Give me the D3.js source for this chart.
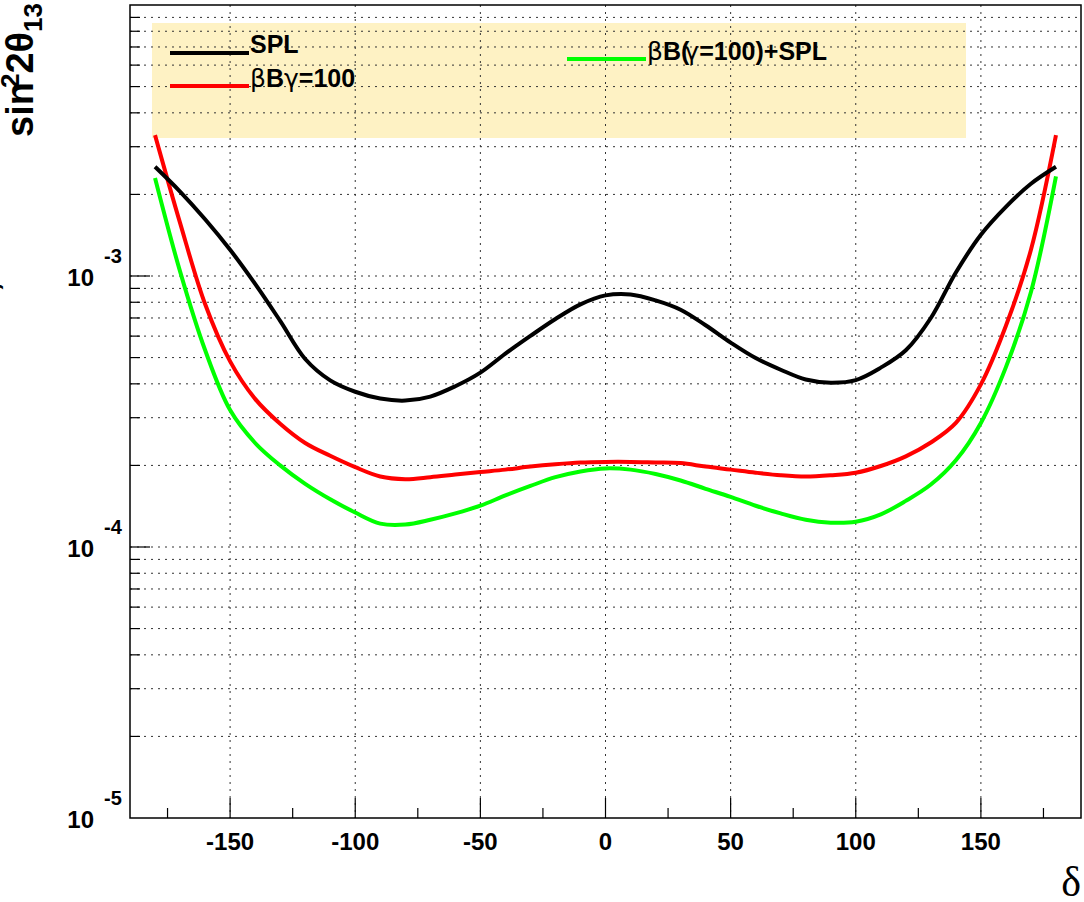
<!DOCTYPE html>
<html>
<head>
<meta charset="utf-8">
<script src="https://cdn.jsdelivr.net/npm/d3@7"></script>
<style>
  body { margin: 0; background: #fff; }
  #my_dataviz { width: 1084px; height: 902px; }
  text { font-family: "Liberation Sans", Arial, sans-serif; }
</style>
</head>
<body>
<div id="my_dataviz"></div>
<script>
// delta values (degrees) where the curves were read
var delta = [-180,-170,-160,-150,-140,-130,-120,-110,-100,-90,-80,-70,-60,-50,-40,-30,-20,-10,
             0,10,20,30,40,50,60,70,80,90,100,110,120,130,140,150,160,170,180];

// SPL
var splVals = [2.53e-3,2.05e-3,1.62e-3,1.25e-3,9.35e-4,6.83e-4,4.94e-4,4.12e-4,3.74e-4,3.53e-4,3.47e-4,3.59e-4,3.92e-4,4.40e-4,5.17e-4,6.01e-4,6.94e-4,7.86e-4,
               8.48e-4,8.55e-4,8.13e-4,7.51e-4,6.58e-4,5.68e-4,4.98e-4,4.51e-4,4.15e-4,4.04e-4,4.13e-4,4.59e-4,5.32e-4,7.00e-4,1.03e-3,1.42e-3,1.80e-3,2.19e-3,2.53e-3];

// beta beam gamma=100
var bbVals = [3.31e-3,1.57e-3,7.88e-4,4.84e-4,3.52e-4,2.85e-4,2.42e-4,2.17e-4,1.97e-4,1.82e-4,1.78e-4,1.81e-4,1.85e-4,1.89e-4,1.93e-4,1.98e-4,2.02e-4,2.05e-4,
              2.06e-4,2.06e-4,2.05e-4,2.04e-4,1.98e-4,1.93e-4,1.88e-4,1.84e-4,1.82e-4,1.84e-4,1.88e-4,1.99e-4,2.16e-4,2.43e-4,2.87e-4,3.98e-4,6.55e-4,1.25e-3,3.31e-3];

// beta beam + SPL
var combVals = [2.30e-3,1.04e-3,5.33e-4,3.20e-4,2.42e-4,2.00e-4,1.71e-4,1.50e-4,1.34e-4,1.22e-4,1.21e-4,1.26e-4,1.33e-4,1.42e-4,1.55e-4,1.68e-4,1.81e-4,1.90e-4,
                1.95e-4,1.93e-4,1.86e-4,1.76e-4,1.64e-4,1.53e-4,1.42e-4,1.33e-4,1.26e-4,1.23e-4,1.24e-4,1.32e-4,1.48e-4,1.70e-4,2.09e-4,2.87e-4,4.61e-4,8.73e-4,2.33e-3];

var xTicks = [-150,-100,-50,0,50,100,150];
var xMinor = [-175,-125,-75,-25,25,75,125,175];
var yMajor = [1e-5,1e-4,1e-3];
var yExp = ["-5","-4","-3"];

var seriesNames = ["SPL", "βBγ=100", "βB(γ=100)+SPL"];
var seriesColors = ["#000000", "#ff0000", "#00ff00"];

// frame (window.top is taken, so keep these in an object)
var frame = {left: 130, right: 1081, top: 5, bottom: 818};

var svg = d3.select("#my_dataviz")
  .append("svg")
  .attr("width", 1084)
  .attr("height", 902)
  .style("display", "block");

var x = d3.scaleLinear().domain([-190, 190]).range([frame.left, frame.right]);
var y = d3.scaleLog().domain([1e-5, 1e-2]).range([frame.bottom, frame.top]);

// legend box goes under the grid
svg.append("rect")
  .attr("x", 152).attr("y", 23)
  .attr("width", 814).attr("height", 115)
  .attr("fill", "#fef2c4");

// minor y values 2..9 per decade
var yGrid = [];
[1e-5, 1e-4, 1e-3].forEach(function(d) {
  for (var k = 1; k <= 9; k++) yGrid.push(d * k);
});
yGrid = yGrid.filter(function(d) { return d > 1e-5; });

svg.append("g").selectAll("line")
  .data(yGrid)
  .enter().append("line")
  .attr("x1", frame.left).attr("x2", frame.right)
  .attr("y1", function(d) { return y(d); })
  .attr("y2", function(d) { return y(d); })
  .attr("stroke", "#333")
  .attr("stroke-width", 1)
  .attr("stroke-dasharray", "2,5");

svg.append("g").selectAll("line")
  .data(xTicks)
  .enter().append("line")
  .attr("x1", function(d) { return x(d); })
  .attr("x2", function(d) { return x(d); })
  .attr("y1", frame.top).attr("y2", frame.bottom)
  .attr("stroke", "#333")
  .attr("stroke-width", 1)
  .attr("stroke-dasharray", "2,5");

// ticks
svg.append("g").selectAll("line")
  .data(xTicks)
  .enter().append("line")
  .attr("x1", function(d) { return x(d); })
  .attr("x2", function(d) { return x(d); })
  .attr("y1", frame.bottom).attr("y2", frame.bottom - 20)
  .attr("stroke", "#000").attr("stroke-width", 1.2);

svg.append("g").selectAll("line")
  .data(xMinor)
  .enter().append("line")
  .attr("x1", function(d) { return x(d); })
  .attr("x2", function(d) { return x(d); })
  .attr("y1", frame.bottom).attr("y2", frame.bottom - 10)
  .attr("stroke", "#000").attr("stroke-width", 1.2);

svg.append("g").selectAll("line")
  .data(yGrid)
  .enter().append("line")
  .attr("x1", frame.left)
  .attr("x2", function(d) { return yMajor.indexOf(d) >= 0 ? frame.left + 20 : frame.left + 10; })
  .attr("y1", function(d) { return y(d); })
  .attr("y2", function(d) { return y(d); })
  .attr("stroke", "#000").attr("stroke-width", 1.2);

// tick labels
svg.append("g").selectAll("text")
  .data(xTicks)
  .enter().append("text")
  .attr("x", function(d) { return x(d); })
  .attr("y", 850)
  .attr("text-anchor", "middle")
  .style("font-size", "24px")
  .style("font-weight", "bold")
  .text(function(d) { return d; });

var yLab = svg.append("g").selectAll("g")
  .data(yMajor)
  .enter().append("g");
yLab.append("text")
  .attr("x", 94)
  .attr("y", function(d) { return y(d) + 10; })
  .attr("text-anchor", "end")
  .style("font-size", "24px")
  .style("font-weight", "bold")
  .text("10");
yLab.append("text")
  .attr("x", 104)
  .attr("y", function(d) { return y(d) - 13; })
  .style("font-size", "20px")
  .style("font-weight", "bold")
  .text(function(d, i) { return yExp[i]; });

// axis titles
svg.append("text")
  .attr("x", 1081).attr("y", 896)
  .attr("text-anchor", "end")
  .style("font-family", "'Liberation Serif', 'Times New Roman', serif")
  .style("font-size", "42px")
  .text("δ");

var yt = svg.append("text")
  .attr("transform", "translate(33,3) rotate(-90)")
  .attr("text-anchor", "end")
  .style("font-size", "38px")
  .style("font-weight", "bold");
yt.append("tspan").text("sin");
yt.append("tspan").attr("dy", -14).attr("dx", -6).style("font-size", "26px").text("2");
yt.append("tspan").attr("dy", 14).text("2θ");
yt.append("tspan").attr("dy", 9).style("font-size", "26px").text("13");

// first title line, almost entirely outside the page
svg.append("text")
  .attr("transform", "translate(-2,152) rotate(-90)")
  .attr("text-anchor", "end")
  .style("font-size", "34px")
  .style("font-weight", "bold")
  .text("3σ C.L.,    limit on");

// curves
var line = d3.line()
  .x(function(d) { return x(d[0]); })
  .y(function(d) { return y(d[1]); })
  .curve(d3.curveCatmullRom.alpha(0.5));

var allVals = [splVals, bbVals, combVals];
[1, 2, 0].forEach(function(s) {
  svg.append("path")
    .datum(delta.map(function(d, i) { return [d, allVals[s][i]]; }))
    .attr("fill", "none")
    .attr("stroke", seriesColors[s])
    .attr("stroke-width", 4)
    .attr("d", line);
});

// legend entries
var legendPos = [[170, 53], [170, 86], [567, 59]];
legendPos.forEach(function(p, i) {
  svg.append("line")
    .attr("x1", p[0]).attr("x2", p[0] + 79)
    .attr("y1", p[1]).attr("y2", p[1])
    .attr("stroke", seriesColors[i])
    .attr("stroke-width", 4);
});
var greek = "'DejaVu Sans', sans-serif";
svg.append("text").attr("x", 250).attr("y", 53)
  .style("font-size", "25px").style("font-weight", "bold").text(seriesNames[0]);
var lt1 = svg.append("text").attr("x", 250).attr("y", 87)
  .style("font-size", "25px").style("font-weight", "bold");
lt1.append("tspan").style("font-weight", "normal").style("font-family", greek).text("β");
lt1.append("tspan").text("B");
lt1.append("tspan").style("font-weight", "normal").style("font-family", greek).text("γ");
lt1.append("tspan").text("=100");
var lt2 = svg.append("text").attr("x", 647).attr("y", 60)
  .style("font-size", "25px").style("font-weight", "bold");
lt2.append("tspan").style("font-weight", "normal").style("font-family", greek).text("β");
lt2.append("tspan").text("B(");
lt2.append("tspan").attr("dx", -5).style("font-weight", "normal").style("font-family", greek).text("γ");
lt2.append("tspan").text("=100)+SPL");

// frame
svg.append("rect")
  .attr("x", frame.left).attr("y", frame.top)
  .attr("width", frame.right - frame.left).attr("height", frame.bottom - frame.top)
  .attr("fill", "none")
  .attr("stroke", "#000")
  .attr("stroke-width", 1.5);
</script>
</body>
</html>
